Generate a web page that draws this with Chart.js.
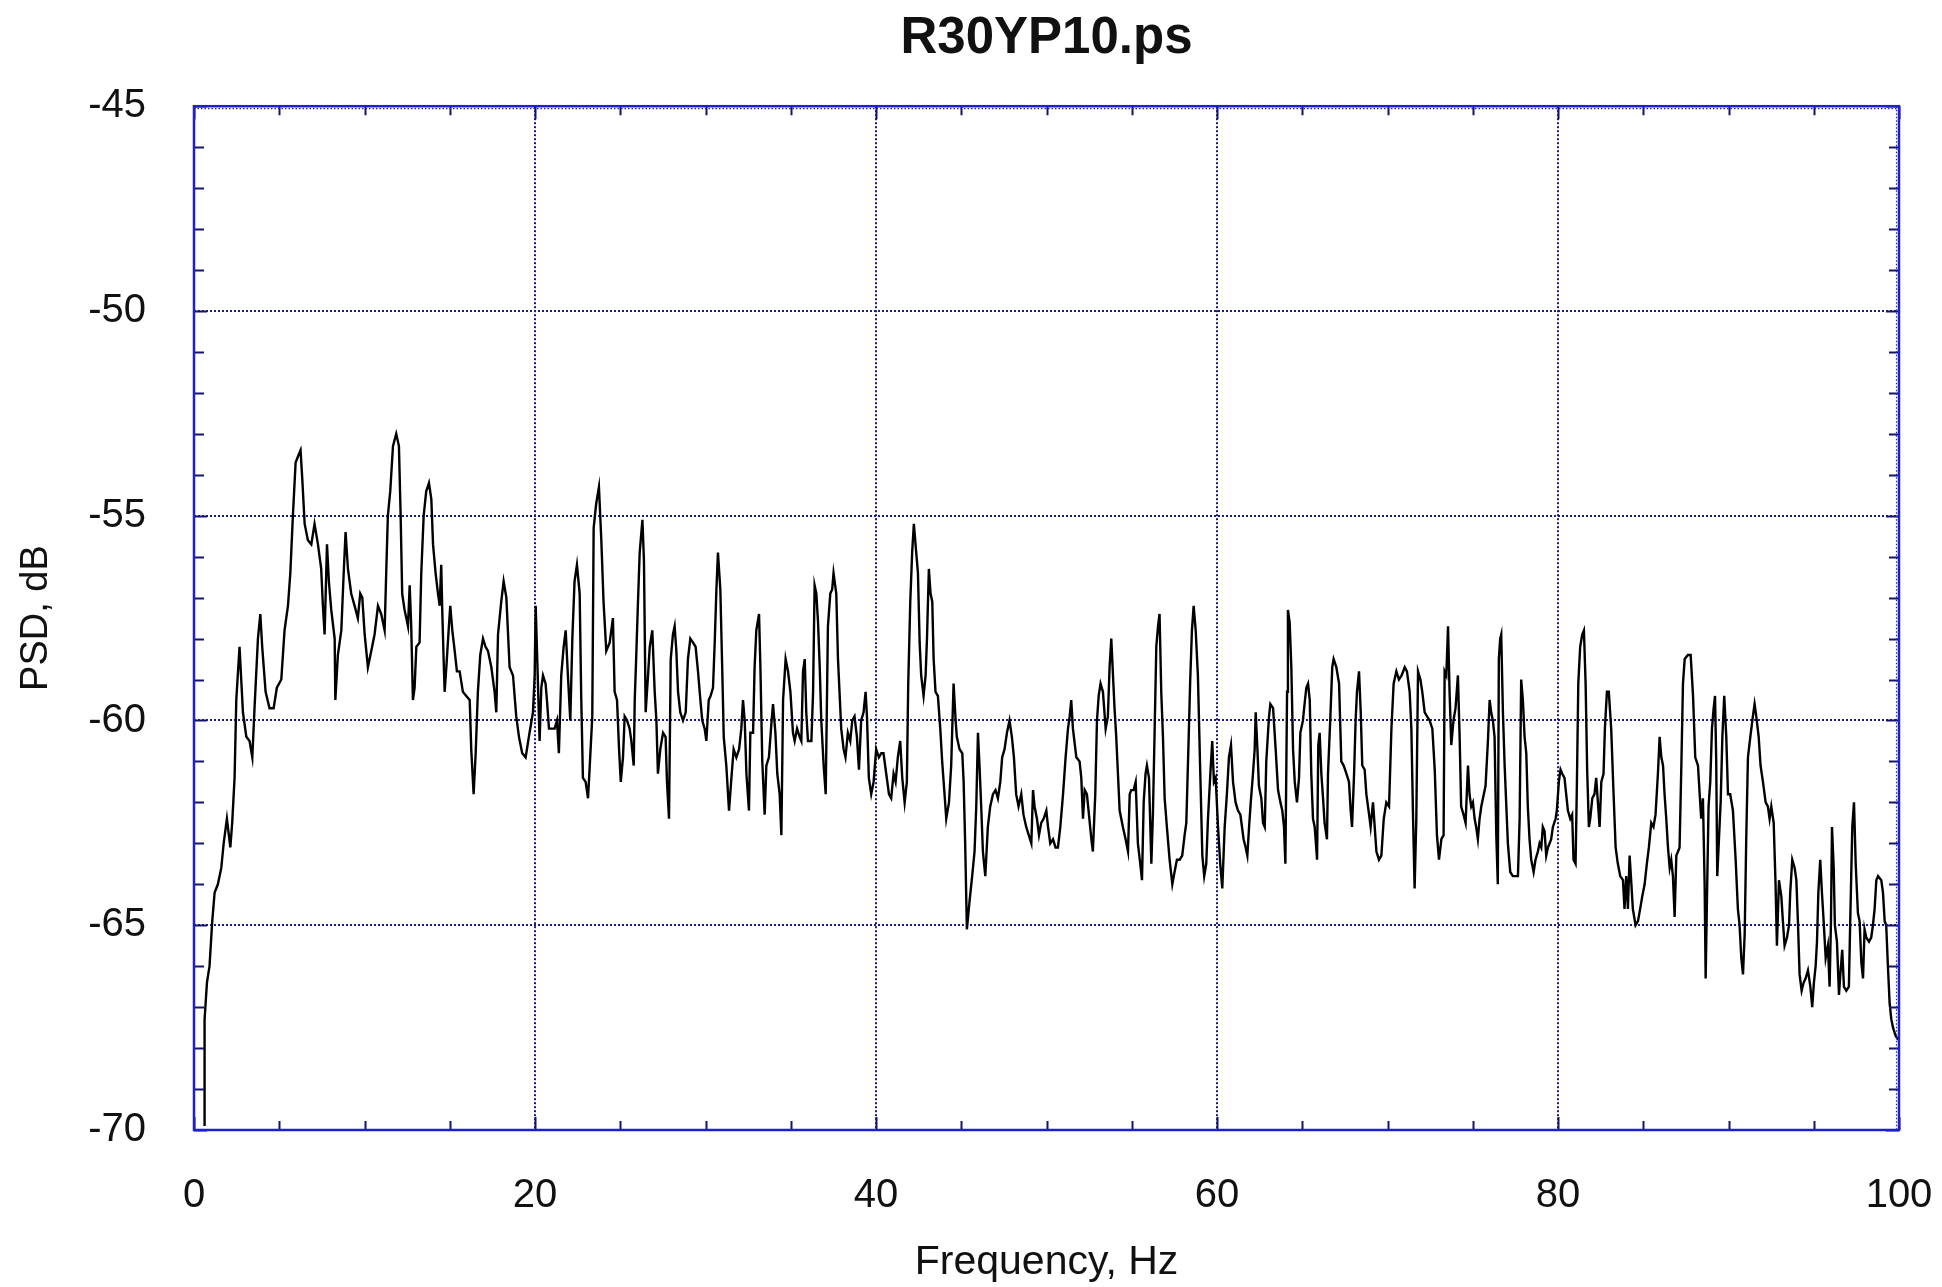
<!DOCTYPE html>
<html>
<head>
<meta charset="utf-8">
<title>R30YP10.ps</title>
<script src="https://cdn.jsdelivr.net/npm/chart.js@4.4.0/dist/chart.umd.min.js"></script>
<style>
  html, body { margin: 0; padding: 0; background: #fff; }
</style>
</head>
<body>
<canvas id="psdChart" width="1942" height="1287"></canvas>
<script>
const chartTitle = "R30YP10.ps";
const xAxisTitle = "Frequency, Hz";
const yAxisTitle = "PSD, dB";

const xTickValues = [0, 20, 40, 60, 80, 100];
const yTickValues = [-70, -65, -60, -55, -50, -45];
const xMinorStep = 5;
const yMinorStep = 1;

// frequency (Hz)
const freqHz = [
  0.62, 0.62, 0.76, 0.91, 1.07, 1.21, 1.40, 1.60, 1.74, 1.93,
  2.13, 2.24, 2.38, 2.48, 2.67, 2.77, 2.87, 3.07, 3.26, 3.42,
  3.55, 3.75, 3.89, 4.00, 4.20, 4.43, 4.67, 4.86, 5.12, 5.31,
  5.51, 5.65, 5.80, 5.96, 6.15, 6.25, 6.35, 6.49, 6.68, 6.88,
  7.07, 7.27, 7.46, 7.56, 7.66, 7.80, 7.91, 8.05, 8.25, 8.29,
  8.44, 8.64, 8.78, 8.89, 9.03, 9.22, 9.42, 9.61, 9.75, 9.87,
  10.01, 10.20, 10.40, 10.59, 10.79, 10.98, 11.18, 11.28, 11.37, 11.51,
  11.67, 11.86, 12.02, 12.12, 12.21, 12.35, 12.55, 12.65, 12.74, 12.84,
  12.94, 13.04, 13.23, 13.33, 13.47, 13.62, 13.78, 13.92, 14.02, 14.17,
  14.31, 14.41, 14.50, 14.56, 14.64, 14.70, 14.80, 14.95, 15.03, 15.15,
  15.29, 15.42, 15.58, 15.77, 15.97, 16.17, 16.26, 16.40, 16.52, 16.65,
  16.79, 16.95, 17.10, 17.24, 17.44, 17.63, 17.73, 17.83, 18.02, 18.16,
  18.32, 18.51, 18.71, 18.90, 19.06, 19.25, 19.45, 19.68, 19.88, 19.98,
  20.04, 20.11, 20.27, 20.37, 20.47, 20.62, 20.70, 20.82, 20.96, 21.15,
  21.29, 21.40, 21.54, 21.68, 21.80, 21.93, 22.07, 22.19, 22.32, 22.46,
  22.62, 22.71, 22.81, 22.97, 23.11, 23.20, 23.36, 23.44, 23.59, 23.75,
  23.89, 24.02, 24.18, 24.38, 24.57, 24.67, 24.81, 24.93, 25.03, 25.16,
  25.26, 25.40, 25.55, 25.65, 25.79, 25.85, 25.94, 26.04, 26.14, 26.30,
  26.39, 26.49, 26.63, 26.73, 26.88, 27.02, 27.12, 27.21, 27.35, 27.51,
  27.66, 27.74, 27.86, 27.96, 28.09, 28.19, 28.29, 28.39, 28.52, 28.68,
  28.84, 28.97, 29.11, 29.27, 29.42, 29.56, 29.70, 29.81, 29.95, 30.05,
  30.19, 30.30, 30.44, 30.54, 30.64, 30.73, 30.87, 30.99, 31.07, 31.22,
  31.38, 31.52, 31.65, 31.81, 31.97, 32.10, 32.20, 32.30, 32.40, 32.55,
  32.63, 32.79, 32.88, 32.98, 33.14, 33.22, 33.33, 33.47, 33.57, 33.72,
  33.86, 33.96, 34.10, 34.21, 34.35, 34.45, 34.55, 34.70, 34.84, 34.98,
  35.13, 35.23, 35.37, 35.52, 35.62, 35.72, 35.82, 35.91, 36.01, 36.21,
  36.31, 36.40, 36.50, 36.60, 36.70, 36.79, 36.93, 37.05, 37.18, 37.32,
  37.43, 37.51, 37.67, 37.77, 37.86, 37.96, 38.10, 38.21, 38.35, 38.49,
  38.61, 38.74, 38.88, 39.00, 39.13, 39.27, 39.39, 39.47, 39.58, 39.72,
  39.86, 40.01, 40.17, 40.31, 40.44, 40.60, 40.76, 40.89, 41.03, 41.15,
  41.28, 41.42, 41.54, 41.68, 41.81, 41.89, 42.01, 42.12, 42.22, 42.36,
  42.46, 42.56, 42.65, 42.79, 42.91, 42.99, 43.10, 43.20, 43.30, 43.38,
  43.49, 43.63, 43.77, 43.88, 44.02, 44.12, 44.28, 44.41, 44.55, 44.67,
  44.74, 44.90, 45.06, 45.14, 45.23, 45.33, 45.49, 45.64, 45.78, 45.88,
  45.98, 46.07, 46.17, 46.27, 46.41, 46.56, 46.70, 46.86, 47.01, 47.15,
  47.29, 47.40, 47.54, 47.68, 47.83, 47.97, 48.09, 48.22, 48.36, 48.52,
  48.65, 48.81, 49.11, 49.21, 49.30, 49.44, 49.56, 49.69, 49.83, 49.99,
  50.09, 50.22, 50.38, 50.53, 50.67, 50.81, 50.97, 51.12, 51.26, 51.36,
  51.45, 51.55, 51.75, 51.94, 52.04, 52.14, 52.24, 52.37, 52.49, 52.63,
  52.72, 52.86, 52.96, 53.06, 53.17, 53.31, 53.47, 53.60, 53.70, 53.80,
  53.90, 53.99, 54.09, 54.19, 54.29, 54.48, 54.64, 54.78, 54.88, 54.97,
  55.11, 55.23, 55.36, 55.50, 55.60, 55.70, 55.81, 55.89, 56.01, 56.15,
  56.24, 56.34, 56.44, 56.54, 56.63, 56.73, 56.83, 56.93, 57.06, 57.22,
  57.38, 57.51, 57.65, 57.81, 57.96, 58.10, 58.20, 58.34, 58.43, 58.53,
  58.63, 58.75, 58.88, 59.02, 59.14, 59.25, 59.37, 59.47, 59.61, 59.72,
  59.82, 59.92, 60.06, 60.19, 60.31, 60.45, 60.58, 60.70, 60.82, 60.94,
  61.09, 61.23, 61.37, 61.56, 61.68, 61.78, 61.88, 61.98, 62.11, 62.21,
  62.27, 62.37, 62.46, 62.60, 62.70, 62.80, 62.89, 63.05, 63.13, 63.29,
  63.44, 63.58, 63.72, 63.83, 63.93, 64.01, 64.11, 64.16, 64.26, 64.36,
  64.46, 64.56, 64.69, 64.81, 64.89, 65.04, 65.16, 65.24, 65.34, 65.44,
  65.53, 65.63, 65.73, 65.87, 65.94, 66.02, 66.12, 66.22, 66.31, 66.45,
  66.51, 66.65, 66.76, 66.84, 67.00, 67.16, 67.29, 67.43, 67.59, 67.74,
  67.84, 67.92, 68.04, 68.13, 68.21, 68.33, 68.43, 68.52, 68.66, 68.76,
  68.92, 69.01, 69.15, 69.25, 69.35, 69.50, 69.64, 69.78, 69.93, 70.09,
  70.23, 70.36, 70.52, 70.67, 70.83, 71.01, 71.14, 71.30, 71.40, 71.50,
  71.59, 71.69, 71.79, 71.93, 72.04, 72.18, 72.32, 72.47, 72.63, 72.77,
  72.90, 73.02, 73.16, 73.29, 73.35, 73.45, 73.55, 73.64, 73.74, 73.87,
  73.99, 74.13, 74.23, 74.32, 74.46, 74.58, 74.72, 74.81, 74.91, 75.01,
  75.11, 75.20, 75.30, 75.40, 75.50, 75.60, 75.75, 75.89, 75.99, 76.08,
  76.18, 76.28, 76.38, 76.47, 76.53, 76.61, 76.67, 76.77, 76.87, 76.96,
  77.06, 77.20, 77.35, 77.51, 77.65, 77.75, 77.84, 77.94, 78.04, 78.14,
  78.23, 78.33, 78.43, 78.57, 78.68, 78.82, 78.92, 79.02, 79.11, 79.21,
  79.31, 79.41, 79.51, 79.60, 79.70, 79.86, 79.93, 80.05, 80.15, 80.25,
  80.38, 80.48, 80.58, 80.72, 80.83, 80.91, 81.03, 81.11, 81.19, 81.30,
  81.42, 81.52, 81.62, 81.71, 81.81, 81.89, 82.01, 82.14, 82.24, 82.34,
  82.44, 82.54, 82.67, 82.75, 82.87, 82.98, 83.12, 83.26, 83.38, 83.51,
  83.65, 83.81, 83.90, 84.00, 84.10, 84.20, 84.29, 84.39, 84.55, 84.69,
  84.82, 84.94, 85.08, 85.21, 85.33, 85.47, 85.60, 85.72, 85.86, 85.96,
  86.06, 86.16, 86.25, 86.35, 86.45, 86.55, 86.64, 86.74, 86.84, 86.94,
  87.04, 87.13, 87.23, 87.33, 87.43, 87.62, 87.78, 87.92, 88.05, 88.21,
  88.31, 88.40, 88.50, 88.60, 88.66, 88.74, 88.83, 88.93, 89.03, 89.13,
  89.21, 89.28, 89.34, 89.44, 89.54, 89.64, 89.75, 89.87, 89.97, 90.10,
  90.26, 90.42, 90.55, 90.65, 90.75, 90.85, 90.95, 91.04, 91.14, 91.28,
  91.43, 91.53, 91.63, 91.77, 91.88, 92.02, 92.18, 92.31, 92.41, 92.51,
  92.65, 92.76, 92.84, 92.96, 93.10, 93.19, 93.29, 93.43, 93.55, 93.62,
  93.74, 93.88, 93.98, 94.07, 94.17, 94.29, 94.41, 94.52, 94.66, 94.80,
  94.91, 95.01, 95.11, 95.19, 95.27, 95.38, 95.48, 95.58, 95.70, 95.83,
  95.93, 96.01, 96.07, 96.17, 96.24, 96.36, 96.48, 96.56, 96.67, 96.77,
  96.91, 97.06, 97.14, 97.26, 97.36, 97.46, 97.59, 97.69, 97.79, 97.89,
  97.98, 98.08, 98.24, 98.37, 98.47, 98.57, 98.67, 98.77, 98.96, 99.06,
  99.16, 99.25, 99.35, 99.45, 99.55, 99.65, 99.80, 99.95
];

// PSD (dB), same order as freqHz
const psdDb = [
  -69.9, -67.3, -66.4, -66.0, -64.9, -64.2, -64.0, -63.6, -63.0, -62.4,
  -63.1, -62.5, -61.4, -59.5, -58.2, -59.0, -59.8, -60.4, -60.5, -60.9,
  -59.7, -58.0, -57.4, -58.2, -59.3, -59.7, -59.7, -59.2, -59.0, -57.8,
  -57.2, -56.4, -55.0, -53.7, -53.5, -53.4, -54.1, -55.2, -55.6, -55.7,
  -55.2, -55.7, -56.3, -57.2, -57.9, -55.7, -56.6, -57.3, -58.0, -59.5,
  -58.4, -57.8, -56.4, -55.4, -56.3, -56.9, -57.2, -57.5, -56.9, -57.0,
  -57.9, -58.7, -58.3, -57.9, -57.2, -57.4, -57.8, -56.3, -55.0, -54.4,
  -53.3, -53.0, -53.3, -55.0, -56.9, -57.3, -57.7, -56.7, -57.7, -59.5,
  -59.2, -58.2, -58.1, -56.4, -55.0, -54.4, -54.2, -54.6, -55.7, -56.4,
  -56.9, -57.2, -56.2, -57.3, -58.5, -59.3, -58.7, -57.7, -57.2, -57.8,
  -58.3, -58.8, -58.8, -59.3, -59.4, -59.5, -60.7, -61.8, -60.8, -59.3,
  -58.4, -58.0, -58.2, -58.3, -58.7, -59.3, -59.8, -57.9, -57.1, -56.6,
  -57.0, -58.7, -58.9, -59.9, -60.4, -60.8, -60.9, -60.3, -59.8, -58.9,
  -57.2, -58.2, -60.5, -59.2, -58.9, -59.1, -59.5, -60.2, -60.2, -60.2,
  -60.0, -60.8, -58.9, -58.2, -57.8, -58.9, -60.0, -58.0, -56.6, -56.2,
  -56.9, -59.4, -61.4, -61.5, -61.9, -61.2, -59.9, -55.3, -54.7, -54.3,
  -55.6, -57.1, -58.3, -58.1, -57.5, -59.3, -59.5, -60.7, -61.5, -60.9,
  -59.9, -60.0, -60.2, -60.5, -61.1, -59.5, -58.4, -57.1, -55.9, -55.1,
  -56.1, -59.8, -58.9, -58.2, -57.8, -59.3, -60.0, -61.3, -60.7, -60.3,
  -60.4, -61.5, -62.4, -58.5, -57.9, -57.7, -58.3, -59.3, -59.8, -60.0,
  -59.8, -58.5, -58.0, -58.1, -58.2, -58.8, -59.5, -60.0, -60.2, -60.5,
  -59.5, -59.4, -59.2, -58.1, -56.8, -55.9, -56.8, -58.9, -60.4, -61.1,
  -62.2, -61.4, -60.7, -60.9, -60.7, -60.2, -59.5, -60.0, -61.3, -62.2,
  -60.3, -60.3, -58.7, -57.8, -57.4, -58.7, -61.0, -62.3, -61.1, -60.9,
  -60.1, -59.6, -60.3, -61.3, -61.8, -62.8, -59.5, -58.5, -58.8, -59.3,
  -60.3, -60.5, -60.2, -60.4, -60.5, -58.8, -58.5, -59.8, -60.5, -60.5,
  -59.3, -56.7, -56.9, -57.6, -58.7, -60.0, -61.1, -61.8, -57.7, -56.9,
  -56.8, -56.4, -56.9, -58.5, -59.3, -60.2, -60.7, -60.9, -60.3, -60.5,
  -60.0, -59.9, -60.4, -61.2, -60.0, -59.8, -59.3, -59.9, -61.4, -61.8,
  -61.5, -60.7, -60.9, -60.8, -60.8, -61.3, -61.8, -61.9, -61.3, -61.5,
  -60.9, -60.5, -61.4, -62.0, -61.5, -59.1, -57.1, -55.9, -55.2, -55.9,
  -56.4, -58.1, -58.9, -59.4, -58.9, -58.0, -56.3, -56.9, -57.1, -58.5,
  -59.3, -59.4, -60.2, -61.0, -61.8, -62.4, -62.0, -61.1, -59.1, -60.0,
  -60.4, -60.7, -60.8, -61.5, -63.0, -65.1, -64.4, -63.8, -63.2, -62.1,
  -60.3, -61.1, -62.1, -63.2, -63.8, -62.6, -62.1, -61.8, -61.7, -61.9,
  -61.5, -60.9, -60.7, -60.3, -60.0, -60.4, -60.9, -61.8, -62.1, -61.8,
  -62.3, -62.6, -63.0, -61.7, -62.1, -62.4, -62.8, -62.5, -62.4, -62.2,
  -62.6, -63.0, -62.9, -63.1, -63.1, -62.6, -61.8, -60.9, -60.2, -59.9,
  -59.5, -60.2, -60.9, -61.0, -61.4, -62.4, -61.7, -61.8, -62.3, -62.9,
  -63.2, -61.8, -60.0, -59.4, -59.1, -59.3, -60.2, -59.9, -58.7, -58.0,
  -58.9, -59.7, -60.4, -61.3, -62.2, -62.6, -62.9, -63.2, -61.8, -61.7,
  -61.7, -61.5, -63.0, -63.5, -63.9, -62.0, -61.3, -61.1, -61.4, -63.5,
  -62.3, -60.3, -58.2, -57.7, -57.4, -59.3, -60.4, -61.9, -62.6, -63.4,
  -64.0, -63.7, -63.4, -63.4, -63.3, -62.8, -62.5, -60.4, -59.0, -57.8,
  -57.2, -57.8, -58.9, -61.3, -63.3, -63.8, -63.5, -62.4, -61.3, -60.5,
  -61.5, -61.4, -62.6, -63.5, -64.1, -62.6, -61.8, -60.9, -60.6, -61.5,
  -62.0, -62.2, -62.3, -62.9, -63.1, -63.3, -62.6, -62.0, -61.3, -60.7,
  -59.8, -60.7, -61.6, -61.9, -62.5, -62.6, -61.0, -59.9, -59.6, -59.7,
  -60.7, -61.7, -62.0, -62.2, -62.6, -63.5, -59.3, -57.3, -57.6, -58.7,
  -60.7, -61.5, -62.0, -61.4, -60.3, -60.0, -59.5, -59.2, -59.1, -59.5,
  -61.3, -62.4, -62.6, -63.4, -60.6, -60.3, -61.3, -61.9, -62.5, -62.9,
  -61.3, -59.9, -58.7, -58.5, -58.7, -59.1, -61.0, -61.1, -61.3, -61.5,
  -62.2, -62.6, -61.3, -60.0, -59.3, -58.8, -59.8, -61.1, -61.2, -61.8,
  -62.3, -62.6, -62.0, -62.6, -63.2, -63.4, -63.3, -62.4, -62.0, -62.1,
  -60.2, -59.1, -58.8, -59.0, -58.9, -58.7, -58.8, -59.3, -60.2, -62.4,
  -64.1, -62.4, -58.8, -59.0, -59.3, -59.8, -59.9, -60.0, -60.2, -61.2,
  -62.8, -63.4, -62.9, -62.8, -58.8, -58.9, -57.7, -59.3, -60.6, -60.0,
  -59.7, -58.9, -60.4, -62.1, -62.3, -62.5, -61.1, -61.8, -62.1, -62.0,
  -62.4, -62.6, -62.9, -62.4, -62.1, -61.9, -61.6, -60.5, -59.5, -59.8,
  -60.0, -60.4, -62.8, -64.0, -58.5, -58.0, -57.9, -59.8, -61.1, -62.0,
  -63.0, -63.7, -63.8, -63.8, -63.8, -62.4, -59.0, -59.5, -60.4, -60.8,
  -62.1, -62.9, -63.4, -63.7, -63.4, -63.2, -63.0, -63.1, -62.6, -62.7,
  -63.3, -63.1, -63.0, -62.9, -62.6, -62.4, -62.2, -61.5, -61.2, -61.3,
  -61.4, -61.8, -62.2, -62.4, -62.3, -63.4, -63.5, -61.5, -59.1, -58.2,
  -57.9, -57.8, -59.1, -61.2, -62.6, -62.4, -61.9, -61.8, -61.4, -62.0,
  -62.6, -61.5, -61.3, -60.2, -59.3, -59.3, -60.2, -61.8, -63.1, -63.5,
  -63.8, -63.9, -64.6, -63.8, -64.6, -63.3, -63.9, -64.6, -65.0, -64.9,
  -64.6, -64.3, -64.0, -63.5, -63.1, -62.5, -62.6, -62.3, -61.3, -60.4,
  -60.9, -61.1, -61.8, -62.4, -63.1, -63.6, -63.4, -63.8, -64.8, -63.3,
  -63.2, -63.1, -61.2, -59.1, -58.5, -58.4, -58.4, -59.4, -60.9, -61.1,
  -61.8, -62.4, -61.9, -64.0, -66.3, -64.3, -62.1, -61.5, -60.2, -59.7,
  -59.4, -61.0, -63.8, -62.9, -62.0, -60.4, -59.4, -60.4, -61.8, -61.8,
  -62.2, -63.4, -64.6, -65.0, -65.8, -66.2, -65.2, -62.9, -60.9, -60.4,
  -59.9, -59.6, -59.9, -60.4, -61.1, -61.5, -62.0, -62.1, -62.4, -62.1,
  -62.5, -64.0, -65.5, -63.9, -64.3, -64.9, -65.5, -65.3, -65.0, -64.2,
  -63.4, -63.6, -63.9, -64.9, -66.2, -66.6, -66.4, -66.3, -66.1, -66.5,
  -67.0, -66.4, -66.0, -65.4, -64.2, -63.4, -64.2, -64.9, -65.8, -65.5,
  -66.5, -64.9, -62.6, -63.6, -65.0, -65.4, -66.7, -66.2, -65.6, -66.5,
  -66.6, -66.5, -64.9, -62.6, -62.0, -63.5, -64.7, -64.9, -65.9, -66.3,
  -65.1, -65.3, -65.4, -65.3, -65.0, -64.6, -63.9, -63.8, -63.9, -64.2,
  -64.9, -65.0, -66.0, -66.9, -67.3, -67.5, -67.7, -67.8
];

const fontFamily = "'Liberation Sans', Arial, Helvetica, sans-serif";
const frameColor = '#1f1fcf';
const gridColor = '#1a1a86';
const tickColor = '#14146a';
const textColor = '#111111';

// inward tick marks and the blue frame around the plot
const frameTicks = {
    id: 'frameTicks',
    afterDatasetsDraw(chart) {
        const { ctx, chartArea: a, scales } = chart;
        const x = scales.x;
        const y = scales.y;

        ctx.save();
        ctx.strokeStyle = tickColor;
        ctx.lineWidth = 2;
        ctx.beginPath();
        for (let v = x.min; v <= x.max; v += xMinorStep) {
            const px = Math.round(x.getPixelForValue(v)) + 0.5;
            const len = xTickValues.includes(v) ? 13 : 9;
            ctx.moveTo(px, a.bottom);
            ctx.lineTo(px, a.bottom - len);
            ctx.moveTo(px, a.top);
            ctx.lineTo(px, a.top + len);
        }
        for (let v = y.min; v <= y.max; v += yMinorStep) {
            const py = Math.round(y.getPixelForValue(v)) + 0.5;
            const len = yTickValues.includes(v) ? 13 : 10;
            ctx.moveTo(a.left, py);
            ctx.lineTo(a.left + len, py);
            ctx.moveTo(a.right, py);
            ctx.lineTo(a.right - len, py);
        }
        ctx.stroke();

        // fine comb along the top and right edges
        ctx.lineWidth = 1.2;
        ctx.setLineDash([1.5, 2]);
        ctx.strokeStyle = frameColor;
        ctx.beginPath();
        ctx.moveTo(a.left, a.top + 2.5);
        ctx.lineTo(a.right, a.top + 2.5);
        ctx.moveTo(a.right - 2.5, a.top);
        ctx.lineTo(a.right - 2.5, a.bottom);
        ctx.stroke();
        ctx.setLineDash([]);

        ctx.lineWidth = 2.5;
        ctx.strokeRect(a.left, a.top, a.right - a.left, a.bottom - a.top);
        ctx.restore();
    }
};

document.addEventListener("DOMContentLoaded", () => {
    const ctx = document.getElementById('psdChart').getContext('2d');

    const points = freqHz.map((f, i) => ({ x: f, y: psdDb[i] }));

    new Chart(ctx, {
        type: 'line',
        data: {
            datasets: [{
                label: chartTitle,
                data: points,
                borderColor: '#000000',
                borderWidth: 2.4,
                pointRadius: 0,
                tension: 0,
                fill: false
            }]
        },
        options: {
            responsive: false,
            animation: false,
            devicePixelRatio: 1,
            layout: {
                padding: { top: 0, right: 43, bottom: 0, left: 0 }
            },
            plugins: {
                legend: { display: false },
                tooltip: { enabled: false },
                title: {
                    display: true,
                    text: chartTitle,
                    fullSize: false,
                    color: textColor,
                    font: { family: fontFamily, size: 51, weight: 'bold' },
                    padding: { top: 8, bottom: 37 }
                }
            },
            scales: {
                x: {
                    type: 'linear',
                    min: 0,
                    max: 100,
                    afterBuildTicks: (scale) => {
                        scale.ticks = xTickValues.map(v => ({ value: v }));
                    },
                    afterFit: (scale) => {
                        scale.height = 157;
                        scale.paddingLeft = 0;
                        scale.paddingRight = 0;
                    },
                    ticks: {
                        autoSkip: false,
                        maxRotation: 0,
                        padding: 42,
                        color: textColor,
                        font: { family: fontFamily, size: 40 }
                    },
                    grid: {
                        drawTicks: false,
                        color: gridColor,
                        lineWidth: 2
                    },
                    border: { display: false, dash: [2, 2] },
                    title: {
                        display: true,
                        text: xAxisTitle,
                        color: textColor,
                        font: { family: fontFamily, size: 41 },
                        padding: { top: 0, bottom: 0 }
                    }
                },
                y: {
                    type: 'linear',
                    min: -70,
                    max: -45,
                    afterBuildTicks: (scale) => {
                        scale.ticks = yTickValues.map(v => ({ value: v }));
                    },
                    afterFit: (scale) => {
                        scale.width = 194;
                        scale.paddingTop = 0;
                        scale.paddingBottom = 0;
                    },
                    ticks: {
                        padding: 48,
                        color: textColor,
                        font: { family: fontFamily, size: 40 }
                    },
                    grid: {
                        drawTicks: false,
                        color: gridColor,
                        lineWidth: 2
                    },
                    border: { display: false, dash: [2, 2] },
                    title: {
                        display: true,
                        text: yAxisTitle,
                        color: textColor,
                        font: { family: fontFamily, size: 38 },
                        padding: { top: 14, bottom: 0 }
                    }
                }
            }
        },
        plugins: [frameTicks]
    });
});
</script>
</body>
</html>
